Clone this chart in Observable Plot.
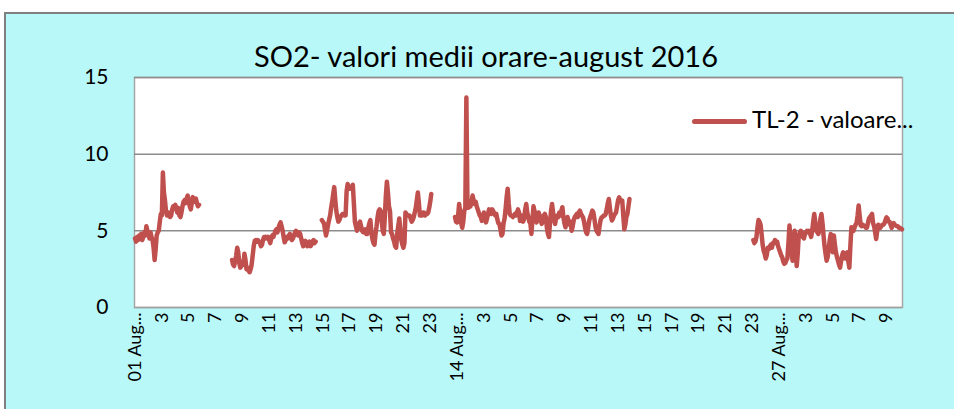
<!DOCTYPE html>
<html>
<head>
<meta charset="utf-8">
<script src="https://cdn.jsdelivr.net/npm/d3@7"></script>
<script src="https://cdn.jsdelivr.net/npm/@observablehq/plot@0.6"></script>
<style>
  html, body { margin: 0; padding: 0; background: #ffffff; }
  #wrap { position: relative; width: 954px; height: 409px; overflow: hidden; font-family: Lato, "Open Sans", sans-serif; }
  #bg { position: absolute; left: 4px; top: 12px; width: 980px; height: 420px; background: #B9F8F8; border-left: 2px solid #808080; border-top: 2px solid #808080; box-sizing: border-box; }
  #title { position: absolute; left: 0; width: 972px; top: 40px; text-align: center; font-size: 29px; line-height: 32px; color: #000; white-space: nowrap; }
  #chart { position: absolute; left: 0; top: 0; }
  #legline { position: absolute; left: 692px; top: 119px; width: 55px; height: 5px; background: #C0504D; border-radius: 2.5px; }
  #legtext { position: absolute; left: 752px; top: 105px; font-size: 24px; line-height: 28px; color: #000; white-space: nowrap; }
</style>
</head>
<body>
<div id="wrap">
  <div id="bg"></div>
  <div id="title">SO2- valori medii orare-august 2016</div>
  <div id="chart"></div>
  <div id="legline"></div>
  <div id="legtext">TL-2 - valoare...</div>
</div>
<script>
// Hourly SO2 values (index 0 = 01 Aug 01:00); gaps = no data
const segmentStart = [0, 94, 181, 310, 599];
const so2Seg1 = [4.5,4.3,4.6,4.4,4.7,4.5,4.8,4.4,4.6,4.9,4.7,
  5.3,5.0,4.8,4.5,4.9,4.6,4.4,3.9,3.1,3.8,
  4.7,4.9,5.0,5.6,6.1,6.0,8.8,7.5,7.0,6.3,
  6.0,6.2,6.1,5.9,6.0,6.4,6.6,6.5,6.7,6.4,
  6.2,6.5,6.0,5.9,6.2,6.6,6.9,7.0,6.8,7.1,
  7.3,7.0,6.6,6.4,6.8,7.2,7.0,6.9,7.1,6.8,
  6.6,6.7];
const so2Seg2 = [3.1,2.8,2.7,3.0,3.4,3.9,3.6,2.9,2.6,2.7,
  3.0,2.8,3.5,3.1,2.5,2.6,2.4,2.3,2.5,2.8,
  3.4,4.0,4.35,4.4,4.3,4.4,4.3,4.2,4.0,4.1,
  4.4,4.6,4.5,4.6,4.5,4.6,4.4,4.2,4.5,4.7,
  4.6,4.8,5.0,5.1,4.9,5.2,5.4,5.55,5.3,5.0,
  4.6,4.25,4.4,4.6,4.5,4.7,4.8,4.6,4.4,4.5,
  4.7,4.9,5.0,4.8,4.7,4.9,4.8,4.5,4.2,4.0,
  4.1,4.35,4.2,4.0,4.1,4.3,4.0,4.1,4.3,4.4,
  4.2,4.3];
const so2Seg3 = [5.7,5.6,5.5,5.1,4.7,5.0,5.4,5.7,6.0,
  6.5,6.9,7.4,7.85,7.0,6.3,5.9,5.6,5.7,5.9,
  6.0,6.1,6.1,6.0,6.0,7.6,8.05,7.9,7.75,7.8,
  7.85,8.0,6.8,5.6,5.3,5.0,5.3,5.5,5.6,5.3,
  5.0,4.9,4.9,5.1,4.8,4.8,5.2,5.5,5.7,4.9,
  4.45,4.2,4.1,4.8,5.3,5.9,6.3,6.4,6.3,5.6,
  5.0,4.8,5.9,7.3,8.2,7.5,6.6,6.3,4.9,4.8,
  4.5,4.3,4.0,3.9,4.8,5.3,5.8,5.1,4.4,4.1,
  3.9,4.2,6.2,6.1,6.0,6.0,6.0,5.8,5.6,5.7,
  5.9,6.2,6.5,7.0,7.5,6.8,6.0,6.1,6.0,6.2,
  6.2,6.0,6.1,6.1,6.2,6.5,6.9,7.4];
const so2Seg4 = [5.9,5.6,5.55,6.0,6.75,6.2,5.5,5.2,5.6,6.3,
  6.5,13.7,7.0,6.5,6.7,6.6,6.9,7.3,7.0,6.75,
  6.9,6.6,6.4,6.2,6.0,5.9,5.65,5.9,6.2,5.9,
  5.55,5.8,6.1,6.4,6.35,6.1,6.4,6.3,6.1,6.0,
  6.1,5.75,5.5,5.45,5.1,4.7,4.8,5.5,5.8,6.4,
  7.2,7.75,6.8,6.1,6.0,6.0,5.9,6.0,6.1,6.0,
  6.2,6.4,6.2,5.65,5.9,6.0,5.6,5.8,6.4,6.75,
  6.2,5.9,5.6,5.5,4.8,5.7,6.6,6.3,6.0,5.55,
  5.8,6.2,6.0,5.7,5.45,5.6,6.0,6.1,5.9,5.2,
  4.8,4.6,5.5,6.3,6.75,6.2,5.7,5.45,5.9,6.0,
  5.9,6.2,6.0,6.3,6.54,5.9,5.5,5.23,5.6,5.9,
  5.67,5.4,5.6,5.0,5.3,5.7,5.9,6.0,6.1,5.9,
  6.2,6.32,6.1,6.0,5.88,5.6,5.2,4.9,4.8,5.2,
  5.67,5.9,6.1,6.32,6.2,5.8,5.3,5.0,4.9,4.8,
  5.3,5.7,5.88,5.9,6.0,6.0,6.1,6.4,6.8,7.08,
  6.5,6.0,5.67,5.8,6.0,6.1,6.2,6.6,7.0,7.19,
  7.0,6.9,6.97,6.0,5.1,5.4,5.9,6.1,6.6,7.08];
const so2Seg5 = [4.4,4.2,4.3,4.6,5.2,5.7,5.6,5.4,4.8,4.1,
  3.7,3.5,3.2,3.4,3.9,3.8,4.0,4.1,3.9,4.2,
  4.25,4.4,4.2,4.3,4.0,3.8,3.6,3.4,3.27,3.0,
  2.85,2.9,3.1,3.2,4.2,5.34,4.5,3.7,3.05,4.0,
  5.0,4.0,2.7,3.5,4.7,4.9,5.0,4.9,4.6,4.5,
  4.8,4.9,5.0,4.9,5.0,4.8,4.6,5.0,5.6,6.1,
  5.6,5.0,4.9,4.8,5.1,5.8,6.1,5.5,4.7,4.0,
  3.5,3.05,3.3,3.8,4.4,4.8,4.2,3.6,4.7,4.1,
  3.6,3.3,3.05,2.8,2.6,3.0,3.4,3.6,3.4,3.2,
  3.4,3.6,3.0,2.6,4.0,5.23,5.1,5.0,5.2,5.4,
  5.5,6.0,6.65,6.0,5.35,5.3,5.4,5.35,5.3,5.2,
  5.2,5.5,5.8,5.9,6.0,6.1,5.5,5.3,4.9,4.47,
  5.0,5.4,5.3,5.2,5.3,5.4,5.4,5.5,5.7,5.88,
  5.8,5.6,5.6,5.4,5.2,5.4,5.5,5.4,5.35,5.3,
  5.3,5.2,5.2,5.15,5.1];
const segments = [so2Seg1, so2Seg2, so2Seg3, so2Seg4, so2Seg5];
const hourCount = 744;

// Category-axis labels (every 26th hour)
const tickHours = d3.range(0, hourCount, 26);
const tickLabels = ["01 Aug...","3","5","7","9","11","13","15","17","19","21","23",
  "14 Aug...","3","5","7","9","11","13","15","17","19","21","23",
  "27 Aug...","3","5","7","9"];
const yTicks = [0, 5, 10, 15];
const seriesName = "TL-2 - valoare...";
const lineColor = "#C0504D";

const values = new Array(hourCount).fill(null);
segments.forEach((seg, s) => seg.forEach((v, i) => { values[segmentStart[s] + i] = v; }));
const data = values.map((v, h) => ({h, v}));
const labelByHour = new Map(tickHours.map((h, i) => [h, tickLabels[i]]));

document.getElementById("legtext").textContent = seriesName;
document.getElementById("legline").style.background = lineColor;

const chart = Plot.plot({
  width: 954,
  height: 409,
  marginLeft: 134,
  marginRight: 52,
  marginTop: 77,
  marginBottom: 102,
  style: {background: "transparent", fontFamily: "Lato, 'Open Sans', sans-serif", color: "#000", overflow: "visible"},
  x: {domain: [-0.5, hourCount - 0.5], axis: null},
  y: {domain: [0, 15], axis: null},
  marks: [
    Plot.frame({fill: "white", stroke: "#a6a6a6", strokeWidth: 1.5}),
    Plot.ruleY([5, 10, 15], {stroke: "#8c8c8c", strokeWidth: 1.5}),
    Plot.ruleY([0], {stroke: "#a0a0a0", strokeWidth: 1.5}),
    Plot.axisY({ticks: yTicks, label: null, tickSize: 0, tickPadding: 26, fontSize: 21, fill: "#000"}),
    Plot.axisX({ticks: tickHours, label: null, tickFormat: d => labelByHour.get(d), tickRotate: -90, tickSize: 0, tickPadding: 5, fontSize: 18, fill: "#000"}),
    Plot.line(data, {x: "h", y: "v", stroke: lineColor, strokeWidth: 4.5, strokeLinejoin: "round", strokeLinecap: "round"})
  ]
});
document.getElementById("chart").appendChild(chart);
</script>
</body>
</html>
